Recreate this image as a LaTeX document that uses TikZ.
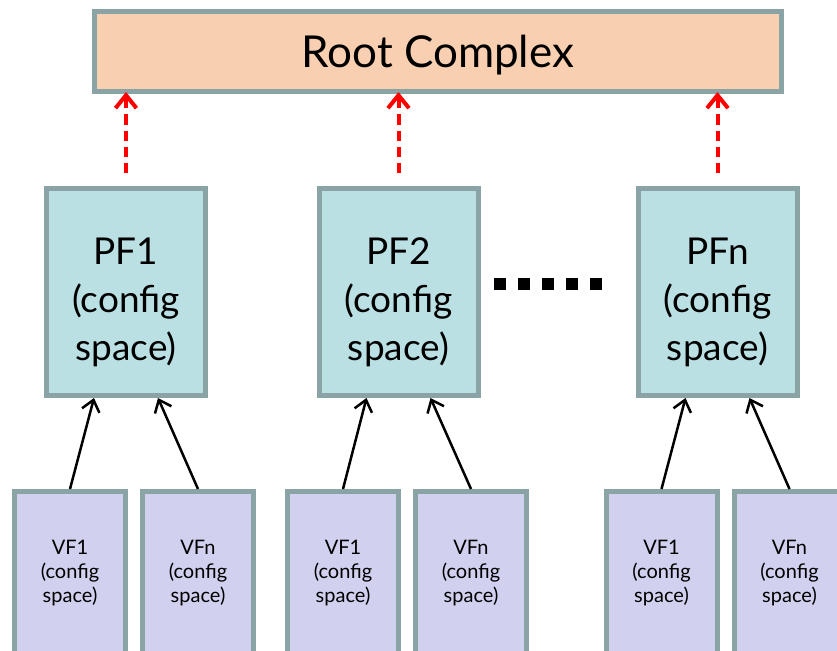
\documentclass[tikz,border=0pt]{standalone}
\usepackage{fontspec}
\setmainfont{Lato}
\usetikzlibrary{arrows.meta, positioning}
\definecolor{rootfill}{HTML}{F8D0B1}
\definecolor{pffill}{HTML}{BBE0E3}
\definecolor{vffill}{HTML}{D1D1EF}
\definecolor{boxline}{HTML}{8AA4A5}
\begin{document}
\begin{tikzpicture}[
    x=1pt, y=-1pt,
    box/.style={rectangle, draw=boxline, line width=5pt, inner sep=0pt},
    rootbox/.style={box, fill=rootfill, minimum width=686.5pt, minimum height=79.5pt},
    pfbox/.style={box, fill=pffill, minimum width=159pt, minimum height=207.5pt},
    vfbox/.style={box, fill=vffill, minimum width=111pt, minimum height=200pt},
    roottext/.style={inner sep=0pt, font=\fontsize{44}{48}\selectfont},
    pftext/.style={align=center, inner sep=0pt, font=\fontsize{37}{48}\selectfont},
    vftext/.style={align=center, inner sep=0pt, font=\fontsize{20}{24}\selectfont},
    uparrow/.style={-{Straight Barb[length=11pt, width=18pt]}, line width=2.5pt},
    rcarrow/.style={-{Straight Barb[length=13pt, width=21pt]}, line width=4pt, red,
        dash pattern=on 10pt off 6pt, shorten <=13pt, shorten >=-2pt}
]
\useasboundingbox (0,0) rectangle (837,650);
\clip (0,0) rectangle (837,650);

% Boxes
\node[rootbox] (root) at (437.75,51.75) {};
\node[pfbox] (pf1) at (126,291.75) {};
\node[pfbox] (pf2) at (398.5,291.75) {};
\node[pfbox] (pfn) at (717.5,291.75) {};
\node[vfbox] (vf11) at (70,591.5) {};
\node[vfbox] (vf1n) at (198,591.5) {};
\node[vfbox] (vf21) at (343,591.5) {};
\node[vfbox] (vf2n) at (471,591.5) {};
\node[vfbox] (vfn1) at (661.5,591.5) {};
\node[vfbox] (vfnn) at (789.5,591.5) {};

% Texts
\node[roottext] (roottxt) at ([yshift=-3pt]root.center) {Root Complex};
\node[pftext] (pf1txt) at ([yshift=-10.5pt]pf1.center) {PF1\\(config\\space)};
\node[pftext] (pf2txt) at ([yshift=-10.5pt]pf2.center) {PF2\\(config\\space)};
\node[pftext] (pfntxt) at ([yshift=-10.5pt]pfn.center) {PFn\\(config\\space)};
\node[vftext] (vf11txt) at ([yshift=-84.5pt]vf11.north) {VF1\\(config\\space)};
\node[vftext] (vf1ntxt) at ([yshift=-84.5pt]vf1n.north) {VFn\\(config\\space)};
\node[vftext] (vf21txt) at ([yshift=-84.5pt]vf21.north) {VF1\\(config\\space)};
\node[vftext] (vf2ntxt) at ([yshift=-84.5pt]vf2n.north) {VFn\\(config\\space)};
\node[vftext] (vfn1txt) at ([yshift=-84.5pt]vfn1.north) {VF1\\(config\\space)};
\node[vftext] (vfnntxt) at ([yshift=-84.5pt]vfnn.north) {VFn\\(config\\space)};

% Dots between PF2 and PFn
\foreach \i in {0,...,4}
    \fill (500+24*\i,284) +(-6,-6) rectangle +(6,6);

% Arrows
\draw[rcarrow] (pf1.north) -- (pf1.north |- root.south);
\draw[rcarrow] (pf2.north) -- (pf2.north |- root.south);
\draw[rcarrow] (pfn.north) -- (pfn.north |- root.south);
\draw[uparrow] (vf11.north) -- ([xshift=-32pt]pf1.south);
\draw[uparrow] (vf1n.north) -- ([xshift=32pt]pf1.south);
\draw[uparrow] (vf21.north) -- ([xshift=-32pt]pf2.south);
\draw[uparrow] (vf2n.north) -- ([xshift=32pt]pf2.south);
\draw[uparrow] (vfn1.north) -- ([xshift=-32pt]pfn.south);
\draw[uparrow] (vfnn.north) -- ([xshift=32pt]pfn.south);

\end{tikzpicture}
\end{document}
